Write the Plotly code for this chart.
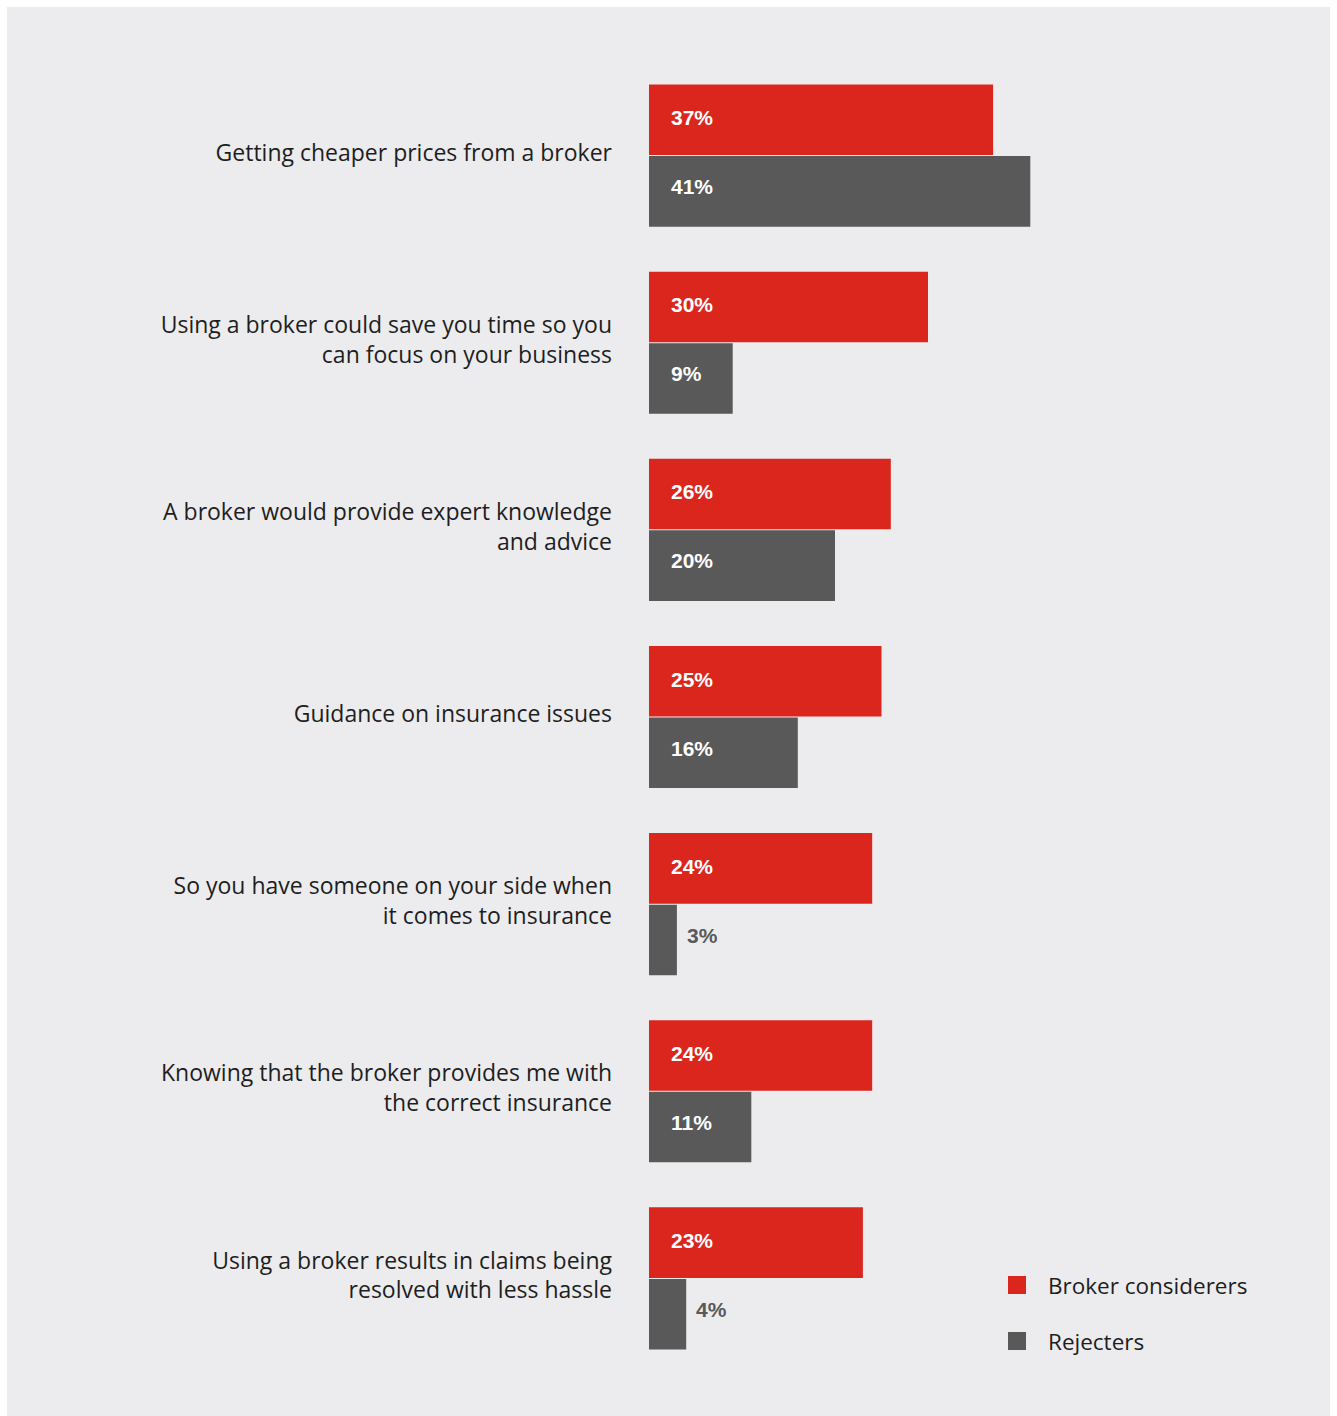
import plotly.graph_objects as go

# Survey reasons, top to bottom
categories = [
    "Getting cheaper prices from a broker",
    "Using a broker could save you time so you<br>can focus on your business",
    "A broker would provide expert knowledge<br>and advice",
    "Guidance on insurance issues",
    "So you have someone on your side when<br>it comes to insurance",
    "Knowing that the broker provides me with<br>the correct insurance",
    "Using a broker results in claims being<br>resolved with less hassle",
]
considerers = [37, 30, 26, 25, 24, 24, 23]
rejecters = [41, 9, 20, 16, 3, 11, 4]
series_names = ["Broker considerers", "Rejecters"]

RED = "#DB261D"
GREY = "#595959"
BG = "#ECECEE"
TEXT = "#1E1E1E"
LABEL_FONT = "Open Sans"

W, H = 1337, 1416
M_L, M_R, M_T, M_B = 649, 7, 62, 44
PLOT_W = W - M_L - M_R
PLOT_H = H - M_T - M_B
X_MAX = PLOT_W / 9.3


def px_x(p):
    return (p - M_L) / PLOT_W


def px_y(p):
    return (H - M_B - p) / PLOT_H


fig = go.Figure()
fig.add_trace(go.Bar(
    y=categories, x=considerers, orientation="h", name=series_names[0],
    marker=dict(color=RED, line=dict(width=0)), showlegend=False,
))
fig.add_trace(go.Bar(
    y=categories, x=rejecters, orientation="h", name=series_names[1],
    marker=dict(color=GREY, line=dict(width=0)), showlegend=False,
))

# Value labels: inside the bar in white, after the bar in grey for short bars
annotations = []
for vals, shift in ((considerers, 38), (rejecters, -31)):
    for cat, v in zip(categories, vals):
        inside = v >= 5
        annotations.append(dict(
            x=0 if inside else v, y=cat, xref="x", yref="y",
            xanchor="left", yanchor="middle",
            xshift=20 if inside else 8, yshift=shift,
            text=f"{v}%", showarrow=False,
            font=dict(family="Liberation Sans, Arial", size=21, weight="bold",
                      color="white" if inside else GREY),
        ))

# Legend drawn as squares with labels
shapes = [dict(
    type="rect", xref="paper", yref="paper", layer="below",
    x0=px_x(7), x1=px_x(1330), y0=px_y(7), y1=px_y(H + 10),
    fillcolor=BG, line=dict(width=0),
)]
for i, (name, col) in enumerate(zip(series_names, [RED, GREY])):
    top = 1276 + 56 * i
    shapes.append(dict(
        type="rect", xref="paper", yref="paper",
        x0=px_x(1008), x1=px_x(1026), y0=px_y(top + 18), y1=px_y(top),
        fillcolor=col, line=dict(width=0),
    ))
    annotations.append(dict(
        x=px_x(1046), y=px_y(top + 9), xref="paper", yref="paper",
        xanchor="left", yanchor="middle", text=name, showarrow=False,
        font=dict(family=LABEL_FONT, size=22.5, color=TEXT),
    ))

fig.update_layout(
    width=W, height=H,
    margin=dict(l=M_L, r=M_R, t=M_T, b=M_B, pad=0),
    paper_bgcolor="white", plot_bgcolor="rgba(0,0,0,0)",
    barmode="group", bargap=0.235, bargroupgap=0.014,
    shapes=shapes, annotations=annotations,
    xaxis=dict(range=[0, X_MAX], visible=False, fixedrange=True),
    yaxis=dict(
        autorange="reversed", showgrid=False, zeroline=False, showline=False,
        ticks="", ticklabelstandoff=36, ticklabelshift=3,
        tickfont=dict(family=LABEL_FONT, size=23, color=TEXT),
    ),
)

fig.write_html("out.html")
